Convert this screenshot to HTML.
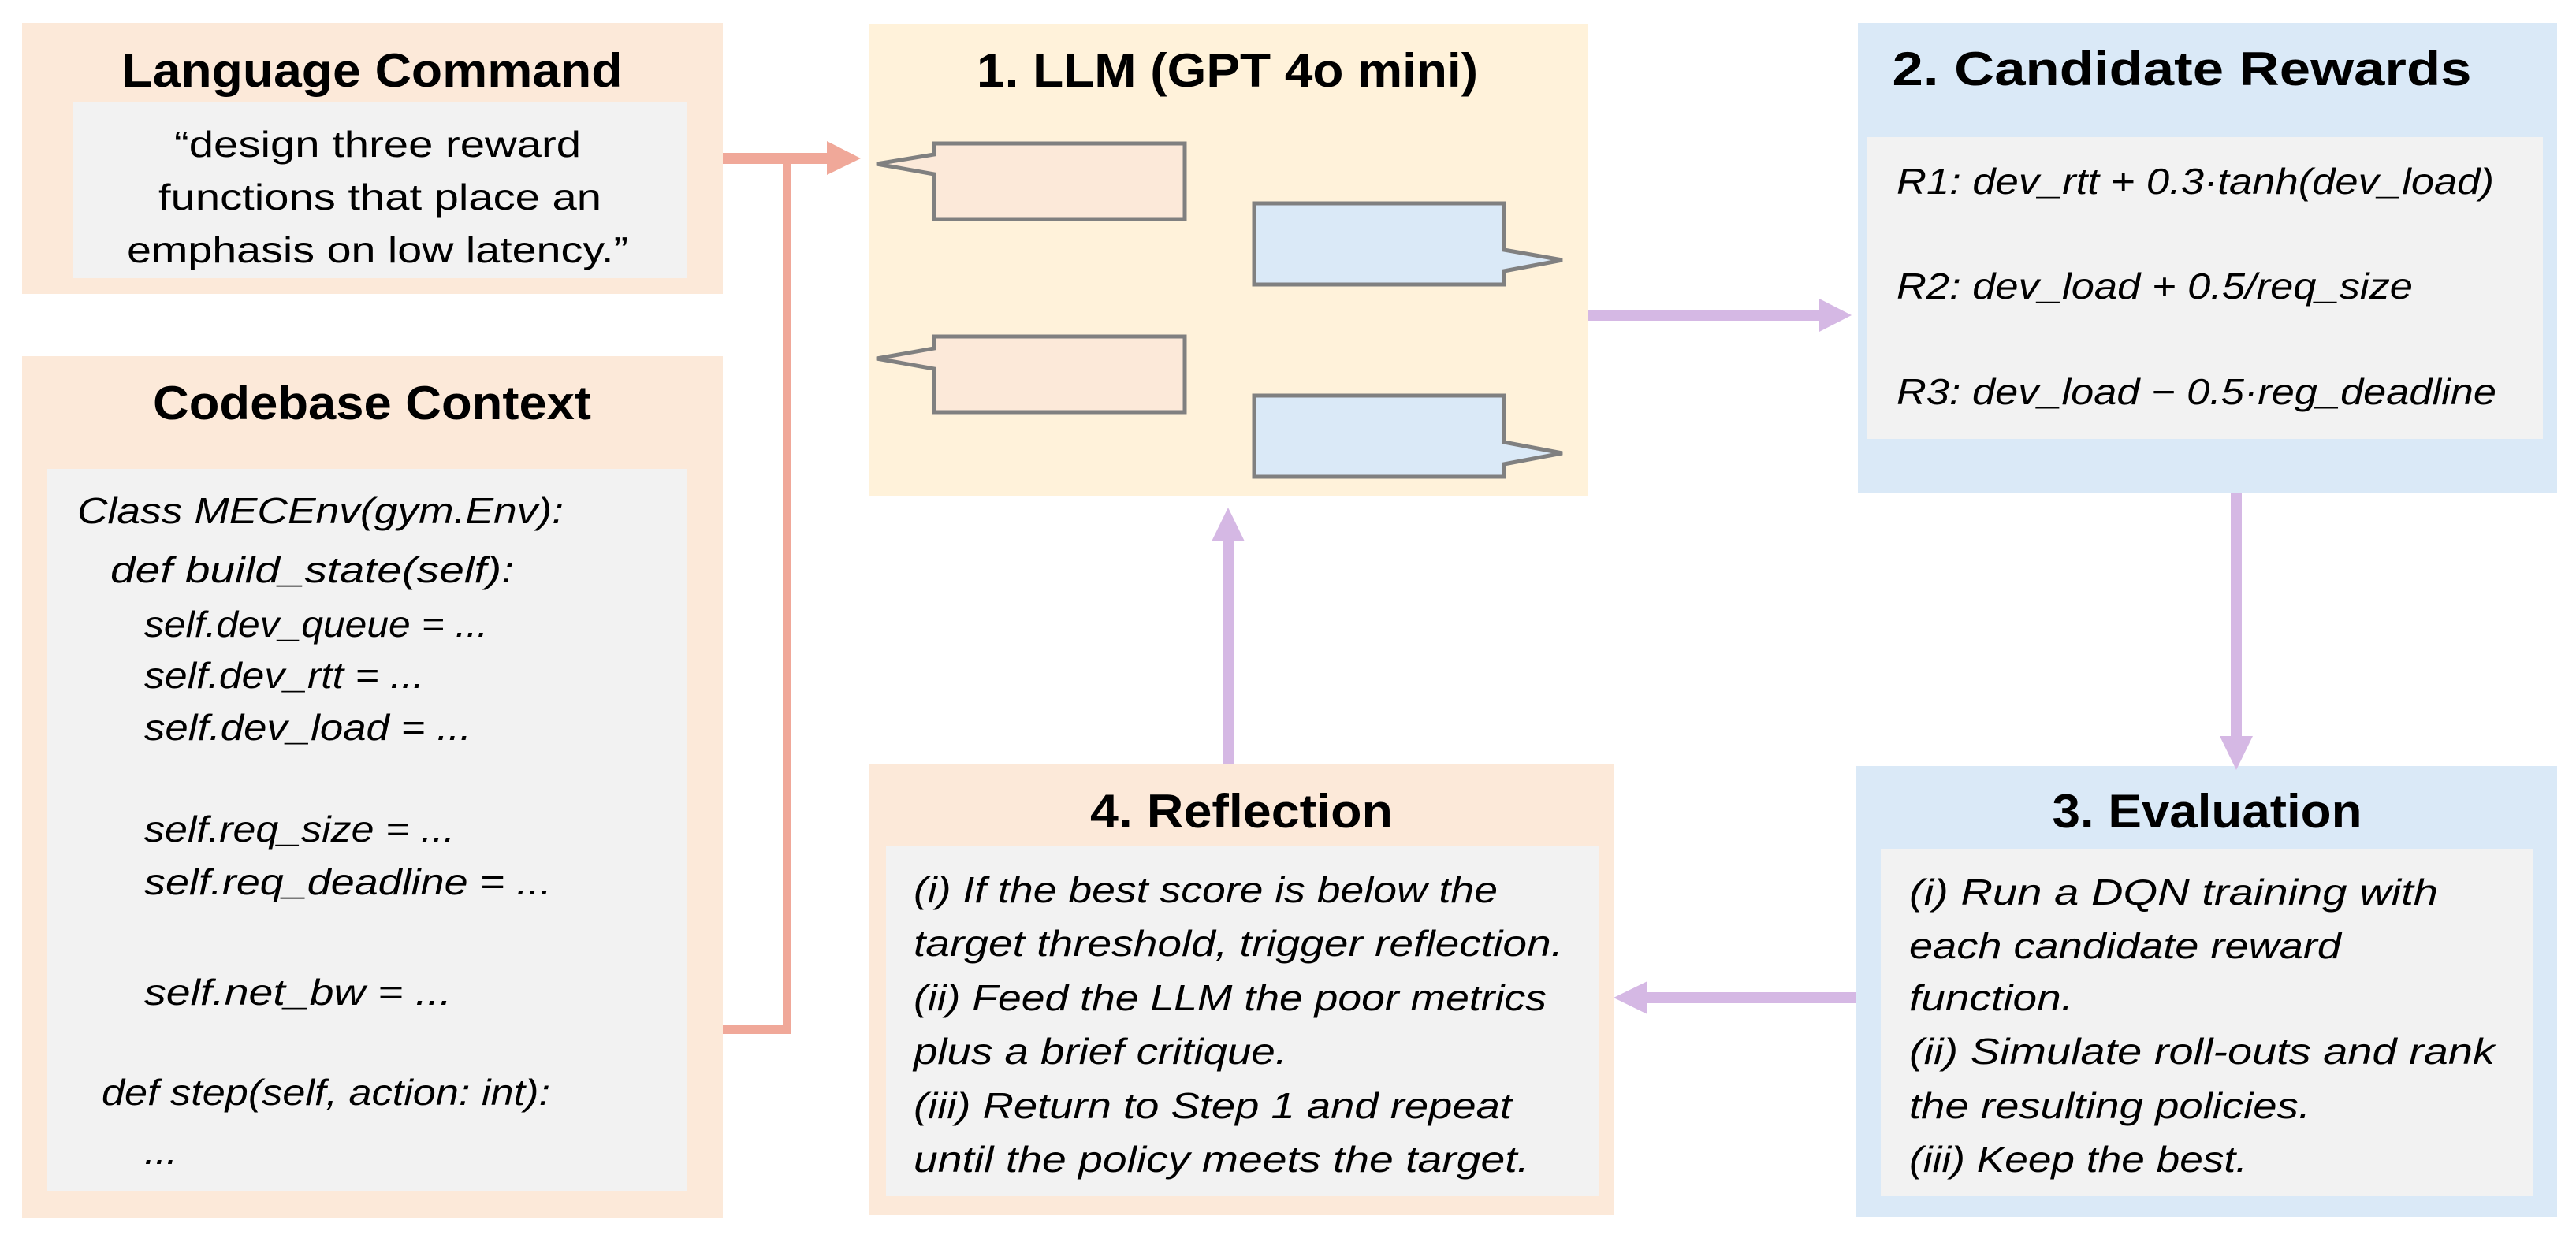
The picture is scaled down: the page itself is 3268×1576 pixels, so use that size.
<!DOCTYPE html>
<html><head><meta charset="utf-8"><style>
html,body{margin:0;padding:0;background:#fff;}
svg{display:block;}
text{font-family:"Liberation Sans",sans-serif;fill:#000;}
.t{font-weight:bold;font-size:60px;text-anchor:middle;}
.b{font-size:46px;font-style:italic;}
.c{font-size:46px;text-anchor:middle;}
</style></head><body>
<svg width="3268" height="1576" viewBox="0 0 3268 1576" xmlns="http://www.w3.org/2000/svg">
<!-- boxes -->
<rect x="28" y="29" width="889" height="344" fill="#FCE9D9"/>
<rect x="92" y="129" width="780" height="224" fill="#F2F2F2"/>
<rect x="28" y="452" width="889" height="1094" fill="#FCE9D9"/>
<rect x="60" y="595" width="812" height="916" fill="#F2F2F2"/>
<rect x="1102" y="31" width="913" height="598" fill="#FFF2DA"/>
<rect x="2357" y="29" width="887" height="596" fill="#DAE9F7"/>
<rect x="2369" y="174" width="857" height="383" fill="#F2F2F2"/>
<rect x="1103" y="970" width="944" height="572" fill="#FCE9D9"/>
<rect x="1124" y="1074" width="904" height="443" fill="#F2F2F2"/>
<rect x="2355" y="972" width="889" height="572" fill="#DAE9F7"/>
<rect x="2386" y="1077" width="827" height="440" fill="#F2F2F2"/>

<!-- speech bubbles -->
<g stroke="#808080" stroke-width="5" stroke-linejoin="miter">
<path d="M1185,182 H1503 V278 H1185 V221 L1112,208 L1185,196 Z" fill="#FCE9D9"/>
<path d="M1591,258 H1908 V317 L1982,330 L1908,344 V361 H1591 Z" fill="#DAE9F7"/>
<path d="M1185,427 H1503 V523 H1185 V468 L1112,455 L1185,442 Z" fill="#FCE9D9"/>
<path d="M1591,502 H1908 V561 L1982,575 L1908,589 V605 H1591 Z" fill="#DAE9F7"/>
</g>

<!-- red connectors -->
<rect x="917" y="194" width="135" height="14" fill="#F0A899"/>
<polygon points="1049,179 1092,201 1049,222" fill="#F0A899"/>
<rect x="993" y="201" width="10" height="1111" fill="#F0A899"/>
<rect x="917" y="1301" width="86" height="11" fill="#F0A899"/>

<!-- purple connectors -->
<g fill="#D5B8E4">
<rect x="2015" y="393" width="300" height="14"/>
<polygon points="2308,379 2349,400 2308,421"/>
<rect x="2830" y="625" width="14" height="315"/>
<polygon points="2816,934 2858,934 2837,977"/>
<rect x="2085" y="1259" width="270" height="14"/>
<polygon points="2090,1245 2090,1287 2047,1266"/>
<rect x="1551" y="684" width="14" height="286"/>
<polygon points="1537,687 1579,687 1558,644"/>
</g>

<!-- titles -->
<text class="t" x="472" y="110" textLength="635" lengthAdjust="spacingAndGlyphs">Language Command</text>
<text class="t" x="1557" y="110" textLength="636" lengthAdjust="spacingAndGlyphs">1. LLM (GPT 4o mini)</text>
<text class="t" x="472" y="532" textLength="556" lengthAdjust="spacingAndGlyphs">Codebase Context</text>
<text class="t" x="2768" y="108" textLength="735" lengthAdjust="spacingAndGlyphs">2. Candidate Rewards</text>
<text class="t" x="1575" y="1050" textLength="384" lengthAdjust="spacingAndGlyphs">4. Reflection</text>
<text class="t" x="2800" y="1050" textLength="393" lengthAdjust="spacingAndGlyphs">3. Evaluation</text>

<!-- language command -->
<text class="c" x="479" y="199" textLength="516" lengthAdjust="spacingAndGlyphs">“design three reward</text>
<text class="c" x="482" y="266" textLength="562" lengthAdjust="spacingAndGlyphs">functions that place an</text>
<text class="c" x="479" y="333" textLength="636" lengthAdjust="spacingAndGlyphs">emphasis on low latency.”</text>

<!-- codebase -->
<text class="b" x="98" y="664" textLength="617" lengthAdjust="spacingAndGlyphs">Class MECEnv(gym.Env):</text>
<text class="b" x="140" y="739" textLength="512" lengthAdjust="spacingAndGlyphs">def build_state(self):</text>
<text class="b" x="183" y="808" textLength="436" lengthAdjust="spacingAndGlyphs">self.dev_queue = ...</text>
<text class="b" x="183" y="873" textLength="355" lengthAdjust="spacingAndGlyphs">self.dev_rtt = ...</text>
<text class="b" x="183" y="939" textLength="415" lengthAdjust="spacingAndGlyphs">self.dev_load = ...</text>
<text class="b" x="183" y="1068" textLength="394" lengthAdjust="spacingAndGlyphs">self.req_size = ...</text>
<text class="b" x="183" y="1135" textLength="517" lengthAdjust="spacingAndGlyphs">self.req_deadline = ...</text>
<text class="b" x="183" y="1275" textLength="390" lengthAdjust="spacingAndGlyphs">self.net_bw = ...</text>
<text class="b" x="129" y="1402" textLength="569" lengthAdjust="spacingAndGlyphs">def step(self, action: int):</text>
<text class="b" x="183" y="1477" textLength="42" lengthAdjust="spacingAndGlyphs">...</text>

<!-- rewards -->
<text class="b" x="2406" y="246" textLength="758" lengthAdjust="spacingAndGlyphs">R1: dev_rtt + 0.3·tanh(dev_load)</text>
<text class="b" x="2406" y="379" textLength="655" lengthAdjust="spacingAndGlyphs">R2: dev_load + 0.5/req_size</text>
<text class="b" x="2406" y="513" textLength="761" lengthAdjust="spacingAndGlyphs">R3: dev_load − 0.5·reg_deadline</text>

<!-- reflection -->
<text class="b" x="1159" y="1145" textLength="741" lengthAdjust="spacingAndGlyphs">(i) If the best score is below the</text>
<text class="b" x="1159" y="1213" textLength="824" lengthAdjust="spacingAndGlyphs">target threshold, trigger reflection.</text>
<text class="b" x="1159" y="1282" textLength="803" lengthAdjust="spacingAndGlyphs">(ii) Feed the LLM the poor metrics</text>
<text class="b" x="1159" y="1350" textLength="474" lengthAdjust="spacingAndGlyphs">plus a brief critique.</text>
<text class="b" x="1159" y="1419" textLength="759" lengthAdjust="spacingAndGlyphs">(iii) Return to Step 1 and repeat</text>
<text class="b" x="1159" y="1487" textLength="781" lengthAdjust="spacingAndGlyphs">until the policy meets the target.</text>

<!-- evaluation -->
<text class="b" x="2422" y="1148" textLength="671" lengthAdjust="spacingAndGlyphs">(i) Run a DQN training with</text>
<text class="b" x="2422" y="1216" textLength="548" lengthAdjust="spacingAndGlyphs">each candidate reward</text>
<text class="b" x="2422" y="1282" textLength="208" lengthAdjust="spacingAndGlyphs">function.</text>
<text class="b" x="2422" y="1350" textLength="743" lengthAdjust="spacingAndGlyphs">(ii) Simulate roll-outs and rank</text>
<text class="b" x="2422" y="1419" textLength="509" lengthAdjust="spacingAndGlyphs">the resulting policies.</text>
<text class="b" x="2422" y="1487" textLength="429" lengthAdjust="spacingAndGlyphs">(iii) Keep the best.</text>
</svg>
</body></html>
